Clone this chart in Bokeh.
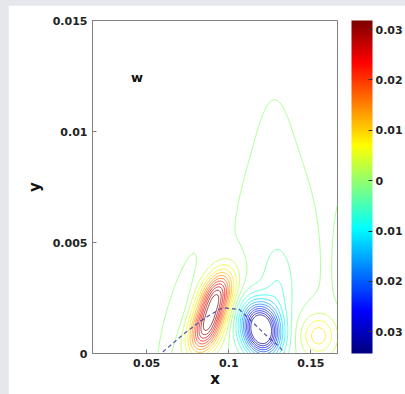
import numpy as np
from bokeh.plotting import figure
from bokeh.models import (ColorBar, LinearColorMapper, FixedTicker, Label)
from bokeh.layouts import column
from bokeh.embed import file_html
from bokeh.resources import INLINE

# ---------------- data ----------------
# field w(x, y) modelled as a few tilted blobs (centre, amplitude, widths, tilt)
blob_name  = ["red_low", "red_high", "blue", "tongue", "tall_base", "tall_top",
              "left_weak", "yellow_small", "right_edge"]
blob_x     = [0.0860, 0.0925, 0.1195, 0.1300, 0.1290, 0.1278, 0.0690, 0.1545, 0.1720]
blob_y     = [0.0011, 0.0026, 0.00108, 0.0028, 0.0040, 0.0077, 0.0019, 0.0008, 0.0039]
blob_amp   = [0.0290, 0.0290, -0.0440, -0.0045, -0.0018, -0.00058, -0.0032, 0.0105, -0.0022]
blob_sx    = [0.0090, 0.0090, 0.0110, 0.0090, 0.0200, 0.0110, 0.0045, 0.0105, 0.0060]
blob_sy    = [0.0011, 0.0011, 0.00115, 0.00166, 0.0040, 0.0040, 0.0017, 0.0009, 0.0026]
blob_tilt  = [3.5, 3.5, -1.5, 0.0, 0.0, 0.0, 3.8, 0.0, 0.0]

contour_levels = [-0.0333, -0.0303, -0.0273, -0.0243, -0.0213, -0.0183, -0.0153,
                  -0.0123, -0.0093, -0.0063, -0.0033, -0.0003, 0.0027, 0.0057,
                  0.0087, 0.0117, 0.0147, 0.0177, 0.0207, 0.0237, 0.0267, 0.0297, 0.0327]

dash_x = [0.0598, 0.0729, 0.0851, 0.0963, 0.1065, 0.1227, 0.1309, 0.1340]
dash_y = [0.00007, 0.0009, 0.00158, 0.00207, 0.00198, 0.00082, 0.0003, 0.0]

x_ticks = [0.05, 0.1, 0.15]
x_tick_labels = ["0.05", "0.1", "0.15"]
y_ticks = [0.0, 0.005, 0.01, 0.015]
y_tick_labels = ["0", "0.005", "0.01", "0.015"]
cbar_ticks = [-0.03, -0.02, -0.01, 0.0, 0.01, 0.02, 0.03]
cbar_labels = ["0.03", "0.02", "0.01", "0", "0.01", "0.02", "0.03"]
cbar_low, cbar_high = -0.0343, 0.0318
x_lo, x_hi = 0.0170, 0.1662
y_lo, y_hi = 0.0, 0.015

# ---------------- styling helpers ----------------
def jet(t):
    t = np.clip(t, 0, 1)
    r = np.clip(1.5 - abs(4 * t - 3), 0, 1)
    g = np.clip(1.5 - abs(4 * t - 2), 0, 1)
    b = np.clip(1.5 - abs(4 * t - 1), 0, 1)
    return "#%02x%02x%02x" % (int(r * 255), int(g * 255), int(b * 255))

jet256 = [jet(i / 255) for i in range(256)]

# ---------------- field on a grid ----------------
gx = np.linspace(x_lo, x_hi, 320)
gy = np.linspace(y_lo, y_hi, 320)
X, Y = np.meshgrid(gx, gy)
Z = np.zeros_like(X)
for x0, y0, a, sx, sy, k in zip(blob_x, blob_y, blob_amp, blob_sx, blob_sy, blob_tilt):
    xs = X - x0 - k * (Y - y0)
    Z += a * np.exp(-(xs / sx) ** 2 - ((Y - y0) / sy) ** 2)

line_colors = [jet((lv - cbar_low) / (cbar_high - cbar_low)) for lv in contour_levels]

FONT = "DejaVu Sans"

p = figure(width=397, height=389, x_range=(x_lo, x_hi), y_range=(y_lo, y_hi),
           output_backend="svg", toolbar_location=None,
           min_border_left=84, min_border_right=10, min_border_top=15, min_border_bottom=41)
p.margin = (5, 0, 0, 8)
p.background_fill_color = "white"
p.border_fill_color = "white"
p.outline_line_color = "#808080"
p.outline_line_width = 1
p.grid.visible = False

p.contour(x=gx, y=gy, z=Z, levels=contour_levels, line_color=line_colors,
          line_width=1, line_alpha=0.75)

p.line(dash_x, dash_y, line_color="#4040a8", line_dash="4 3", line_width=1.2, line_alpha=0.9)

p.add_layout(Label(x=0.0441, y=0.01243, text="w", text_font=FONT, text_font_style="bold",
                   text_font_size="13px", text_align="center", text_baseline="middle",
                   text_color="#111111"))

for ax, ticks, labels in ((p.xaxis[0], x_ticks, x_tick_labels), (p.yaxis[0], y_ticks, y_tick_labels)):
    ax.ticker = FixedTicker(ticks=ticks)
    ax.major_label_overrides = {t: l for t, l in zip(ticks, labels)}
    ax.minor_tick_line_color = None
    ax.major_tick_in = 4
    ax.major_tick_out = 0
    ax.major_tick_line_color = "#808080"
    ax.axis_line_color = "#808080"
    ax.major_label_text_font = FONT
    ax.major_label_text_font_style = "bold"
    ax.major_label_text_font_size = "11px"
    ax.major_label_text_color = "#222222"
    ax.axis_label_text_font = FONT
    ax.axis_label_text_font_style = "bold"
    ax.axis_label_text_font_size = "15px"
    ax.axis_label_text_color = "#111111"
    ax.major_label_standoff = 5

p.xaxis.axis_label = "x"
p.yaxis.axis_label = "y"
p.xaxis.axis_label_standoff = 0
p.yaxis.axis_label_standoff = 6

mapper = LinearColorMapper(palette=jet256, low=cbar_low, high=cbar_high)
cb = ColorBar(color_mapper=mapper, width=21, height=333, padding=0, margin=0,
              location=(14, 0),
              ticker=FixedTicker(ticks=cbar_ticks),
              major_label_overrides={t: l for t, l in zip(cbar_ticks, cbar_labels)},
              major_label_text_font=FONT, major_label_text_font_style="bold",
              major_label_text_font_size="11px", major_label_text_color="#222222",
              label_standoff=3, major_tick_in=4, major_tick_out=0,
              major_tick_line_color="#333333", minor_tick_line_color=None,
              bar_line_color=None, border_line_color=None, background_fill_color=None)
p.add_layout(cb, "right")

layout = column(p, styles={"background-color": "#e6e7ed"})
open("out.html", "w").write(file_html(layout, INLINE))
